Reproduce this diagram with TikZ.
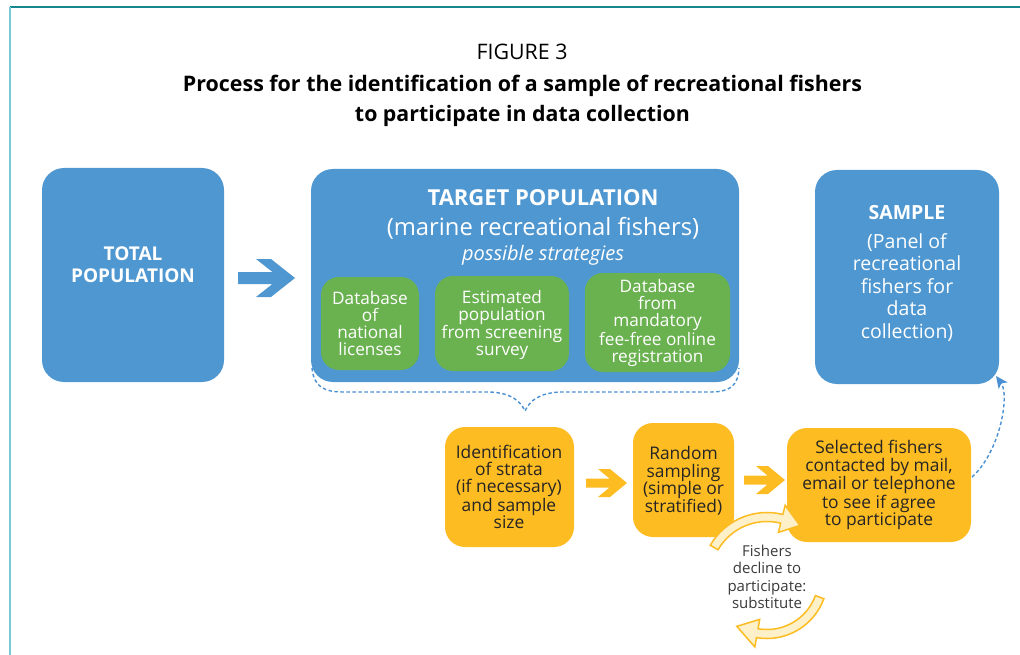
\documentclass[tikz,border=0pt]{standalone}
\usepackage{fontspec}
\usepackage{graphicx}
\setmainfont{Open Sans}
\usetikzlibrary{calc,arrows.meta}

\definecolor{boxblue}{HTML}{4F97D1}
\definecolor{boxgreen}{HTML}{6AB150}
\definecolor{boxorange}{HTML}{FCBC22}
\definecolor{darktext}{HTML}{262424}
\definecolor{greytext}{HTML}{3A3A3A}
\definecolor{cream}{HTML}{FEF0C8}
\definecolor{frametop}{HTML}{16868F}
\definecolor{frameleft}{HTML}{78CBD0}
\definecolor{dashblue}{HTML}{4A90D2}

\newcommand{\fs}[2]{\fontsize{#1}{#2}\selectfont}

\begin{document}
\begin{tikzpicture}[x=1pt,y=-1pt,
  card/.style={inner sep=0pt, outer sep=0pt},
  bluecard/.style={card, fill=boxblue, rounded corners=22pt},
  greencard/.style={card, fill=boxgreen, rounded corners=18pt},
  orangecard/.style={card, fill=boxorange, rounded corners=20pt},
  whitetext/.style={inner sep=0pt, align=center, text=white},
  darklabel/.style={inner sep=0pt, align=center, text=darktext},
  dashlink/.style={dashblue, line width=1.4pt, dash pattern=on 3.5pt off 2.5pt},
  cyclearrow/.style={fill=cream, draw=boxorange, line width=1.5pt, line join=miter}
]
\useasboundingbox (0,0) rectangle (1020,655);

% frame
\draw[frametop, line width=1.3pt] (10,7) -- (1020,7);
\draw[frameleft, line width=2pt] (10,7) -- (10,655);

% title block
\node[inner sep=0pt] (fignum) at (522,52)
  {\resizebox{91pt}{!}{\fs{20}{24}FIGURE 3}};
\node[inner sep=0pt] (title1) at (522.5,86)
  {\resizebox{679pt}{!}{\fs{22}{26}\bfseries Process for the identification of a sample of recreational fishers}};
\node[inner sep=0pt] (title2) at (522.5,116)
  {\resizebox{335pt}{!}{\fs{22}{26}\bfseries to participate in data collection}};

% population boxes
\node[bluecard, minimum width=182pt, minimum height=214pt] (total) at (133,275) {};
\node[whitetext, font=\fs{19}{22}\bfseries] (totaltext) at (133,265) {TOTAL\\POPULATION};

\node[bluecard, minimum width=428pt, minimum height=213pt] (target) at (525,275.5) {};
\node[whitetext, font=\fs{22}{24}\bfseries] (targethead) at (543,197.5) {TARGET POPULATION};
\node[whitetext, font=\fs{23.8}{26}] (targetsub) at (543,228.5) {(marine recreational fishers)};
\node[whitetext, font=\fs{20}{22}\itshape] (strategies) at (543,255) {possible strategies};

\node[greencard, minimum width=98pt, minimum height=93pt] (licenses) at (370,323.5) {};
\node[whitetext, font=\fs{17.2}{17}] (licensestext) at (370,324) {Database\\of\\national\\licenses};
\node[greencard, minimum width=134pt, minimum height=95pt] (screening) at (502,323.5) {};
\node[whitetext, font=\fs{17.2}{17.5}] (screeningtext) at (502,325) {Estimated\\population\\from screening\\survey};
\node[greencard, minimum width=145pt, minimum height=99pt] (registry) at (657.5,322.5) {};
\node[whitetext, font=\fs{17.2}{17}] (registrytext) at (657.5,323) {Database\\from\\mandatory\\fee-free online\\registration};

\node[bluecard, minimum width=184pt, minimum height=214pt] (sample) at (907,277) {};
\node[whitetext, font=\fs{19.5}{22}\bfseries] (samplehead) at (907,212.5) {SAMPLE};
\node[whitetext, font=\fs{19.5}{22.5}] (sampletext) at (907,287.5) {(Panel of\\recreational\\fishers for\\data\\collection)};

% blue block arrow between total and target populations
\fill[boxblue] (238,272) -- (272.4,272) -- (256,259) -- (271,259) -- (295,278)
  -- (271,297) -- (256,297) -- (272.4,284) -- (238,284) -- cycle;

% dashed brace under the target population
\coordinate (bracetip) at (525,411);
\draw[dashlink] (312,368) .. controls (314,388) and (325,392) .. (345,392)
  -- (490,392) .. controls (510,393) and (520,400) .. (bracetip)
  .. controls (530,400) and (540,393) .. (560,392)
  -- (710,392) .. controls (730,392) and (738,386) .. (739,368);

% sampling steps
\node[orangecard, minimum width=129pt, minimum height=120pt] (strata) at (509.5,487) {};
\node[darklabel, font=\fs{17.4}{17}] (stratatext) at (509,487) {Identification\\of strata\\(if necessary)\\and sample\\size};
\node[orangecard, minimum width=101pt, minimum height=114pt] (random) at (683.5,480) {};
\node[darklabel, font=\fs{17.4}{17.5}] (randomtext) at (683.5,481) {Random\\sampling\\(simple or\\stratified)};
\node[orangecard, minimum width=184pt, minimum height=114pt] (selected) at (879,485) {};
\node[darklabel, font=\fs{17.4}{17.3}] (selectedtext) at (879,485) {Selected fishers\\contacted by mail,\\email or telephone\\to see if agree\\to participate};

% orange block arrows
\fill[boxorange] (586,478.5) -- (609.5,478.5) -- (598,469) -- (610,469) -- (627,483)
  -- (610,497) -- (598,497) -- (609.5,487.5) -- (586,487.5) -- cycle;
\fill[boxorange] (744,475.5) -- (767.5,475.5) -- (756,466) -- (768,466) -- (785,480)
  -- (768,494) -- (756,494) -- (767.5,484.5) -- (744,484.5) -- cycle;

% dashed link from contacted fishers to the sample
\draw[dashlink, -{Stealth[length=12pt,width=11pt,inset=3pt]}]
  ($(selected.east)+(1,-8)$) .. controls (1000,452) and (1010,395) .. (996,376);

% substitution cycle
\coordinate (cyc) at (767,578);
\draw[cyclearrow] ($(cyc)+(-150:65.5)$) arc[start angle=-150, end angle=-76, radius=65.5]
  -- ($(cyc)+(-76:75)$) -- ($(cyc)+(-58:62)$) -- ($(cyc)+(-76:47)$)
  -- ($(cyc)+(-76:56.5)$) arc[start angle=-76, end angle=-150, radius=56.5] -- cycle;
\draw[cyclearrow] ($(cyc)+(20:60.5)$) arc[start angle=20, end angle=100, radius=60.5]
  -- ($(cyc)+(100:70)$) -- ($(cyc)+(122:57)$) -- ($(cyc)+(100:42)$)
  -- ($(cyc)+(100:51.5)$) arc[start angle=100, end angle=20, radius=51.5] -- cycle;
\node[inner sep=0pt, align=center, text=greytext, font=\fs{15}{17.5}] (decline) at (767,577)
  {Fishers\\decline to\\participate:\\substitute};
\end{tikzpicture}
\end{document}
